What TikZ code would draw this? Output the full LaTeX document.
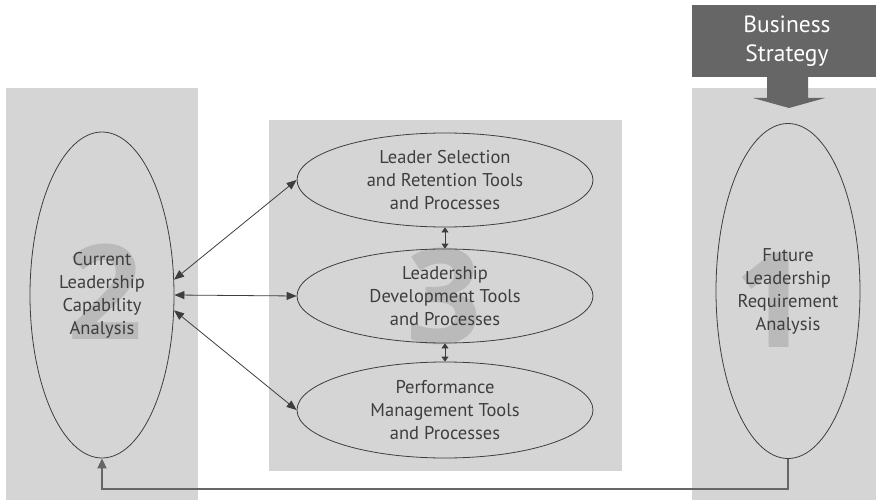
\documentclass[tikz,border=0pt]{standalone}
\usepackage{fontspec}
\setmainfont{PT Sans}
\newfontfamily\numfont{Open Sans}
\usetikzlibrary{arrows.meta,
                positioning,
                shapes.geometric}
\definecolor{panelgray}{RGB}{213,213,213}
\definecolor{boxgray}{RGB}{102,102,102}
\definecolor{numgray}{RGB}{186,186,186}
\definecolor{inkgray}{RGB}{62,62,62}
\tikzset{
  panel/.style={fill=panelgray},
  phase/.style={%
    draw=inkgray,
    line width=0.8pt,
    ellipse,
    inner sep=0,
    align=center,
    text=inkgray,
    font=\fontsize{18.5}{23}\selectfont,
  },
  bignum/.style={text=numgray,inner sep=0,anchor=base,
    font=\numfont\bfseries\fontsize{132}{132}\selectfont},
  link/.style={draw=inkgray,line width=0.8pt,
    {Triangle[length=10pt,width=8pt]}-{Triangle[length=10pt,width=8pt]}},
  shortlink/.style={draw=inkgray,line width=0.8pt,
    {Triangle[length=5pt,width=7pt]}-{Triangle[length=5pt,width=7pt]}},
  feedback/.style={draw=boxgray,line width=1.8pt,-{Triangle[length=10pt,width=9pt]}}
}

\begin{document}
\begin{tikzpicture}[x=1pt,y=-1pt]
    \useasboundingbox (0,0) rectangle (876,500);
    % panels
    \fill[panel] (6,88) rectangle (198,500);
    \fill[panel] (269,120) rectangle (622,471);
    \fill[panel] (692,88) rectangle (876,500);
    % business strategy
    \fill[boxgray] (692,5) rectangle (876,77);
    \node (bs) [text=white,align=center,font=\fontsize{23.5}{29}\selectfont] at (787,41)
        {Business\\Strategy};
    \fill[boxgray] (767,75) -- (808,75) -- (808,98) -- (825,98) -- (789,108)
        -- (753,98) -- (767,98) -- cycle;
    % step numbers
    \node (n2) [bignum] at (105,339) {2};
    \node (n3) [bignum] at (444,343) {3};
    \node (n1) [bignum] at (772,347) {1};
    % phases
    \node (cur) [phase,minimum width=144,minimum height=326] at (102,295)
        {Current\\Leadership\\Capability\\Analysis};
    \node (fut) [phase,minimum width=144,minimum height=335] at (788,291)
        {Future\\Leadership\\Requirement\\Analysis};
    \node (sel) [phase,minimum width=296,minimum height=94] at (445,180)
        {Leader Selection\\and Retention Tools\\and Processes};
    \node (dev) [phase,minimum width=296,minimum height=94] at (445,296)
        {Leadership\\Development Tools\\and Processes};
    \node (perf) [phase,minimum width=296,minimum height=96] at (445,410)
        {Performance\\Management Tools\\and Processes};
    % links
    \draw[link] (cur.12) -- (sel.west);
    \draw[link] (cur.east) -- (dev.west);
    \draw[link] (cur.-12) -- (perf.west);
    \draw[shortlink] (sel.south) -- (dev.north);
    \draw[shortlink] (dev.south) -- (perf.north);
    \draw[feedback] (fut.south) -- ++(0,30) -| (cur.south);
\end{tikzpicture}
\end{document}
